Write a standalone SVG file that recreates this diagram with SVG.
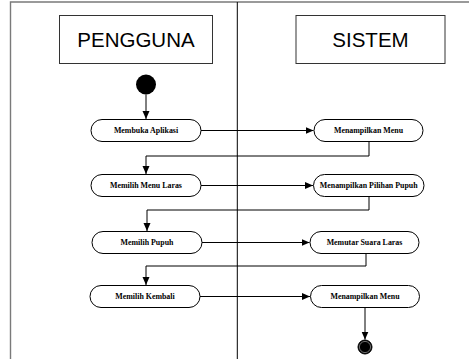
<svg xmlns="http://www.w3.org/2000/svg" width="469" height="359" viewBox="0 0 469 359">
<style>
.frame{fill:none;stroke:#7a7a7a;stroke-width:1.4}
.lane{fill:#fff;stroke:#333;stroke-width:1}
.lanet{font-family:"Liberation Sans",Arial,sans-serif;font-size:20.5px;fill:#000;text-anchor:middle}
.act{fill:#fff;stroke:#000;stroke-width:1}
.actt{font-family:"Liberation Serif","Times New Roman",serif;font-weight:bold;font-size:7.9px;fill:#000;text-anchor:middle}
.con{fill:none;stroke:#000;stroke-width:1;marker-end:url(#ah)}
</style>
<defs>
<marker id="ah" markerUnits="userSpaceOnUse" markerWidth="10" markerHeight="8" refX="8" refY="3.5" orient="auto">
<path d="M0,0 L8,3.5 L0,7 Z" fill="#000"/>
</marker>
</defs>
<rect width="469" height="359" fill="#fff"/>
<g id="frame">
<path class="frame" d="M10.5,359 V2 H469"/>
<line x1="237.3" y1="2" x2="237.3" y2="359" stroke="#000" stroke-width="1"/>
</g>
<g id="lane-pengguna">
<rect class="lane" x="59.5" y="15.5" width="153" height="48"/>
<text class="lanet" x="136" y="47">PENGGUNA</text>
</g>
<g id="lane-sistem">
<rect class="lane" x="296" y="15.5" width="149" height="48"/>
<text class="lanet" x="370.5" y="47">SISTEM</text>
</g>
<g id="start">
<circle cx="146" cy="84.5" r="10" fill="#000"/>
</g>
<g id="a1">
<rect class="act" x="91" y="119.5" width="110" height="22" rx="11"/>
<text class="actt" x="146" y="133.2">Membuka Aplikasi</text>
</g>
<g id="a2">
<rect class="act" x="91" y="174.5" width="110" height="22" rx="11"/>
<text class="actt" x="146" y="188.2">Memilih Menu Laras</text>
</g>
<g id="a3">
<rect class="act" x="92" y="231.5" width="110" height="22" rx="11"/>
<text class="actt" x="147" y="245.2">Memilih Pupuh</text>
</g>
<g id="a4">
<rect class="act" x="90" y="285.5" width="110" height="22" rx="11"/>
<text class="actt" x="145" y="299.2">Memilih Kembali</text>
</g>
<g id="b1">
<rect class="act" x="314" y="119.5" width="109" height="22" rx="11"/>
<text class="actt" x="368.5" y="133.2">Menampilkan Menu</text>
</g>
<g id="b2">
<rect class="act" x="313.5" y="174.5" width="110.5" height="22" rx="11"/>
<text class="actt" x="368.7" y="188.2">Menampilkan Pilihan Pupuh</text>
</g>
<g id="b3">
<rect class="act" x="310" y="231.5" width="109" height="22" rx="11"/>
<text class="actt" x="364.5" y="245.2">Memutar Suara Laras</text>
</g>
<g id="b4">
<rect class="act" x="310.5" y="285.5" width="109" height="22" rx="11"/>
<text class="actt" x="365" y="299.2">Menampilkan Menu</text>
</g>
<g id="end">
<circle cx="365" cy="347" r="7" fill="#000" stroke="#000" stroke-width="1"/>
<circle cx="365" cy="347" r="5.6" fill="#000" stroke="#888" stroke-width="0.8"/>
</g>
<g id="connectors">
<path class="con" d="M146,94.5 V119"/>
<path class="con" d="M201,130.5 H313.5"/>
<path class="con" d="M369,141.5 V156 H146 V174"/>
<path class="con" d="M201,185.5 H313"/>
<path class="con" d="M369,196.5 V210 H147 V231"/>
<path class="con" d="M202,242.5 H309.5"/>
<path class="con" d="M366,253.5 V266 H146 V285"/>
<path class="con" d="M200,296.5 H310"/>
<path class="con" d="M365,307.5 V339.5"/>
</g>
</svg>
